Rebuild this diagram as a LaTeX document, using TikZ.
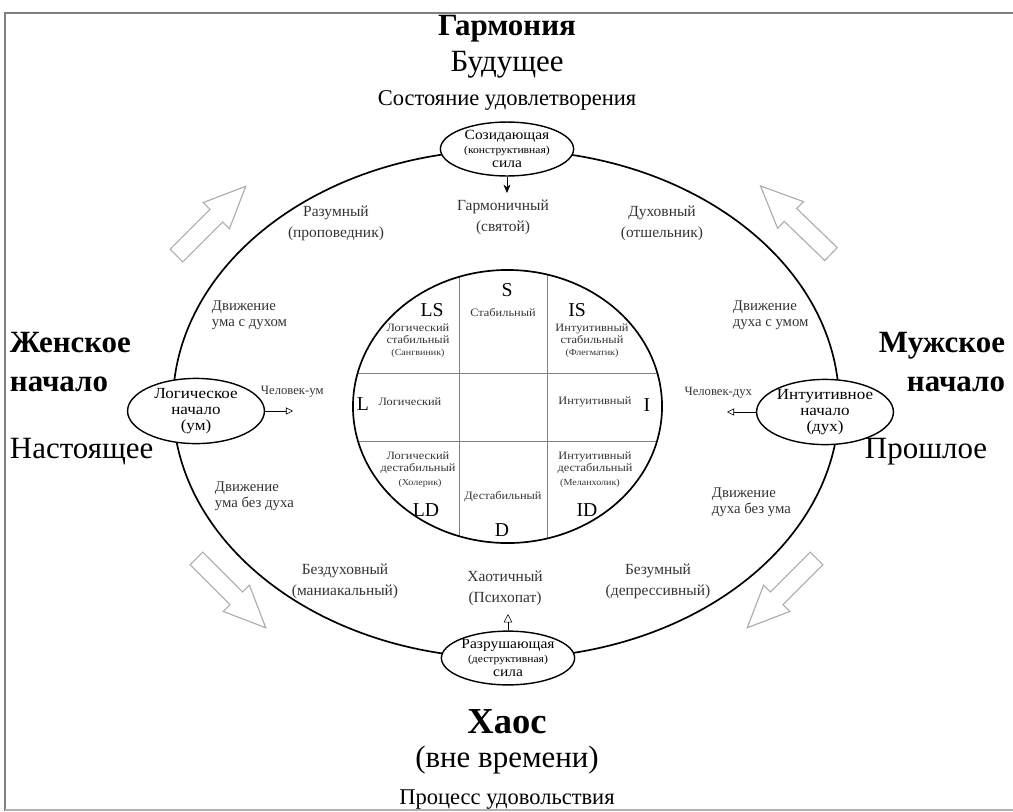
\documentclass[tikz,border=0pt]{standalone}
\usepackage{fontspec}
\setmainfont{Liberation Serif}
\newfontfamily\widerm[FakeStretch=1.1]{Liberation Serif}
\usetikzlibrary{arrows.meta,shapes.geometric,shapes.arrows}

\tikzset{
  head/.style={font=\fontsize{22}{28}\selectfont\bfseries},
  era/.style={font=\fontsize{22}{24}\selectfont},
  state/.style={font=\fontsize{16}{18}\selectfont},
  note/.style={align=center, text=black!80, font=\fontsize{11}{15}\selectfont},
  move/.style={align=left, anchor=west, text=black!80, font=\fontsize{10.5}{11.5}\selectfont},
  force/.style={draw, line width=1pt, ellipse, fill=white, inner sep=0pt,
    minimum width=3.33cm, minimum height=1.2cm, align=center,
    font=\widerm\fontsize{10}{10.2}\selectfont},
  origin/.style={draw, line width=1pt, ellipse, fill=white, inner sep=0pt,
    minimum width=3.42cm, minimum height=1.52cm, align=center,
    font=\widerm\fontsize{11}{11.6}\selectfont},
  letter/.style={font=\fontsize{14}{14}\selectfont},
  cell/.style={align=center, text=black!80, font=\widerm\fontsize{8}{8.4}\selectfont},
  person/.style={text=black!80, font=\fontsize{9}{10}\selectfont},
  grid/.style={gray, line width=0.6pt},
  flow/.style={single arrow, draw=gray!65, fill=white, line width=0.8pt,
    inner xsep=0pt, inner ysep=0.21cm, minimum height=2.45cm,
    single arrow head extend=0.24cm, single arrow tip angle=48},
}

\begin{document}
\begin{tikzpicture}[x=0.025cm, y=-0.025cm, >=Stealth]
\useasboundingbox (0,0) rectangle (1013,811);

%% page frame
\draw[gray, line width=1pt] (5,811) -- (5,13) -- (1013,13);
\draw[gray!60, line width=0.8pt] (5,810) -- (1013,810);

%% outer and inner ovals
\draw[line width=1.2pt] (506,404) ellipse [x radius=8.325cm, y radius=6.35cm];
\begin{scope}
  \clip (507.5,406.5) ellipse [x radius=3.8625cm, y radius=3.4125cm];
  \draw[grid] (459,200) -- (459,600);
  \draw[grid] (547,200) -- (547,600);
  \draw[grid] (300,373) -- (700,373);
  \draw[grid] (300,441) -- (700,441);
\end{scope}
\draw[line width=1.2pt] (507.5,406.5) ellipse [x radius=3.8625cm, y radius=3.4125cm];

%% hollow arrows
\node[flow, rotate=45]   (upleft)    at (204,228) {};
\node[flow, rotate=136]  (upright)   at (803,227) {};
\node[flow, rotate=-45]  (downleft)  at (224,586) {};
\node[flow, rotate=-135] (downright) at (789,586) {};

%% headings
\node[head] (harmony) at (507,29) {Гармония};
\node[era] (future) at (507,65) {Будущее};
\node[state] (satisf) at (507,100) {Состояние удовлетворения};

\node[head, align=left, anchor=west] (female) at (5,362) {Женское\\начало};
\node[head, align=right, anchor=east] (male) at (1010,362) {Мужское\\начало};
\node[era, anchor=west] (present) at (5,452) {Настоящее};
\node[era, anchor=west] (past) at (860,452) {Прошлое};

\node[head, font=\fontsize{26}{28}\selectfont\bfseries] (chaos) at (507,722) {Хаос};
\node[era] (timeless) at (507,760) {(вне времени)};
\node[state] (pleasure) at (507,800) {Процесс удовольствия};

%% forces and origins on the outer oval
\node[force] (create) at (507,149)
  {Созидающая\\{\fontsize{7.5}{10.2}\selectfont(конструктивная)}\\сила};
\node[force] (destroy) at (508,658)
  {Разрушающая\\{\fontsize{7.5}{10.2}\selectfont(деструктивная)}\\сила};
\node[origin] (logic) at (196,411) {Логическое\\начало\\(ум)};
\node[origin] (intuit) at (825,412) {Интуитивное\\начало\\(дух)};

%% types between the ovals
\node[note] (harmonic) at (503,217) {Гармоничный\\(святой)};
\node[note] (reason) at (336,223) {Разумный\\(проповедник)};
\node[note] (spirit) at (662,223) {Духовный\\(отшельник)};
\node[note] (nospirit) at (345,581) {Бездуховный\\(маниакальный)};
\node[note] (nomind) at (658,581) {Безумный\\(депрессивный)};
\node[note] (chaotic) at (505,588) {Хаотичный\\(Психопат)};

\node[move] (mindwith) at (207,315) {Движение\\ума с духом};
\node[move] (spiritwith) at (728,315) {Движение\\духа с умом};
\node[move] (mindwithout) at (210,496) {Движение\\ума без духа};
\node[move] (spiritwithout) at (707,502) {Движение\\духа без ума};

\node[person, anchor=west] (mindman) at (256,392) {Человек-ум};
\node[person, anchor=east] (spiritman) at (757,393) {Человек-дух};

%% connectors
\coordinate (harmtip) at (507,193);
\coordinate (chaostip) at (508,614);
\coordinate (mindtip) at (293,411);
\coordinate (spirittip) at (727,412);
\draw[-{Stealth[length=6pt,width=5pt]}] (create.south) -- (harmtip);
\draw[-{Triangle[open,length=6pt,width=6pt]}] (destroy.north) -- (chaostip);
\draw[-{Triangle[open,length=5pt,width=5pt]}] (logic.east) -- (mindtip);
\draw[-{Triangle[open,length=5pt,width=5pt]}] (intuit.west) -- (spirittip);

%% inner circle cells
\node[letter] (S) at (507,290) {S};
\node[cell] (stab) at (503,313) {Стабильный};
\node[letter] (LS) at (432,310) {LS};
\node[cell] (lstab) at (418,334) {Логический\\стабильный};
\node[cell, font=\widerm\fontsize{6.5}{7}\selectfont] (sang) at (418,353) {(Сангвиник)};
\node[letter] (IS) at (577,310) {IS};
\node[cell] (istab) at (592,334) {Интуитивный\\стабильный};
\node[cell, font=\widerm\fontsize{6.5}{7}\selectfont] (phleg) at (592,353) {(Флегматик)};

\node[letter] (L) at (363,404) {L};
\node[cell] (log) at (410,402) {Логический};
\node[cell] (intu) at (595,402) {Интуитивный};
\node[letter] (I) at (647,405) {I};

\node[cell] (ldest) at (418,463) {Логический\\дестабильный};
\node[cell, font=\widerm\fontsize{6.5}{7}\selectfont] (chol) at (420,483) {(Холерик)};
\node[letter] (LD) at (426,510) {LD};
\node[cell] (dest) at (503,497) {Дестабильный};
\node[letter] (D) at (502,530) {D};
\node[cell] (idest) at (595,463) {Интуитивный\\дестабильный};
\node[cell, font=\widerm\fontsize{6.5}{7}\selectfont] (melan) at (590,483) {(Меланхолик)};
\node[letter] (ID) at (587,510) {ID};

\end{tikzpicture}
\end{document}
